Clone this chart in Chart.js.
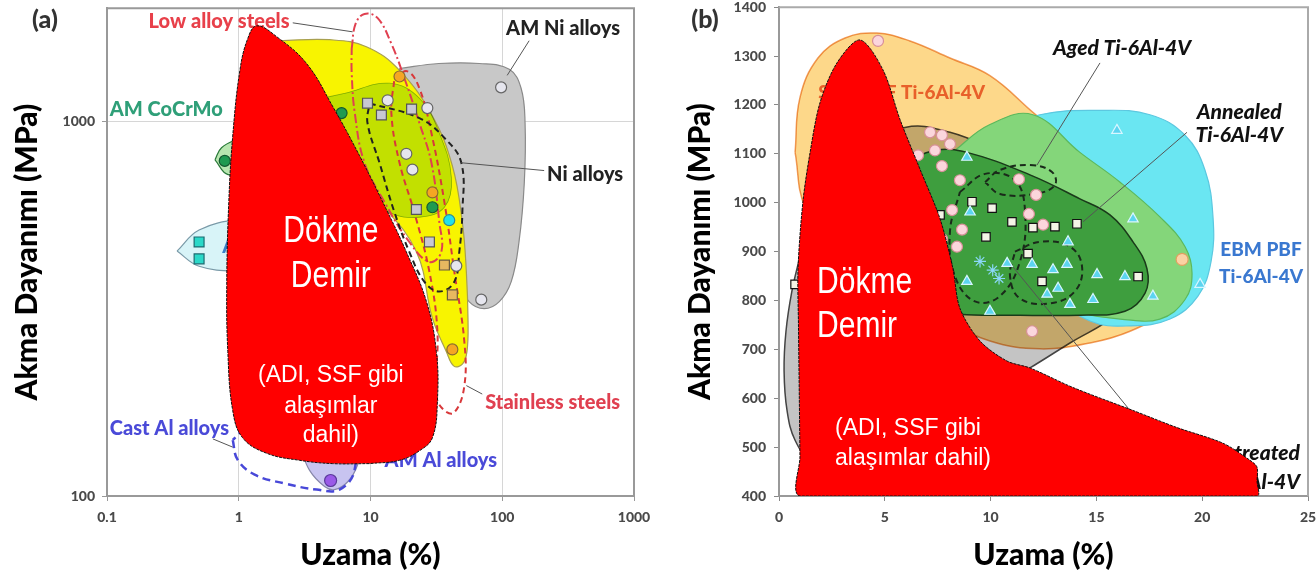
<!DOCTYPE html>
<html>
<head>
<meta charset="utf-8">
<script src="https://cdn.jsdelivr.net/npm/chart.js@4.4.1/dist/chart.umd.min.js"></script>
<style>
  html, body { margin: 0; padding: 0; background: #fff; }
  #wrap { position: relative; width: 1316px; height: 577px; overflow: hidden; }
  .panel { position: absolute; top: 0; height: 577px; }
  #pa { left: 0; width: 660px; }
  #pb { left: 660px; width: 656px; }
</style>
</head>
<body>
<div id="wrap">
  <div class="panel" id="pa"><canvas id="chartA"></canvas></div>
  <div class="panel" id="pb"><canvas id="chartB"></canvas></div>
</div>
<script>
// ---------- panel (a): elongation vs yield strength, log-log ----------
const ticksXA = [0.1, 1, 10, 100, 1000];
const ticksYA = [100, 1000];

// region outlines [elongation %, yield MPa]
const castIronA = [[9.83,122],[5.15,122],[2.9,124.5],[1.63,130],[1.07,143],[0.9,169],[0.826,243],[0.811,366],[0.84,607],[0.9,912],[1.02,1365],[1.17,1659],[1.37,1795],[1.94,1679],[3.27,1424],[5.15,1096],[8.26,808],[13.2,581],[18.7,448],[26.6,330],[31.6,243],[32.2,179],[29.5,143],[23.5,132],[16.6,124.5]];
const amNiA = [[16.6,1381],[33,1424],[67,1424],[113,1374],[139,1223],[149,988],[147,685],[134,476],[117,373],[95,330],[73,316],[56,330],[47,373],[40,506],[33,685],[23.5,929],[18,1116]];
const amSteelA = [[2.05,1638],[4.9,1648],[9.3,1579],[16.6,1365],[29.5,1031],[41.8,760],[49.8,537],[53.4,396],[55,292],[54,243],[50,225],[43,222],[37.6,243],[29.5,298],[22.3,448],[11.7,607],[4.9,823],[2.05,1116],[1.44,1424]];
const overlapA = [[2.9,1116],[6.35,1186],[13.9,1262],[23.5,1151],[33.3,929],[41.1,707],[36.4,589],[23.5,554],[13.9,571],[6.93,685],[4.11,823],[2.9,958]];
const coCrMoA = [[0.66,788],[0.74,849],[1.02,902],[2.05,1018],[4.9,1116],[6.9,1102],[6.7,970],[2.9,875],[1.21,752],[0.83,720]];
const amTiA = [[0.34,450],[0.5,512],[1,545],[2,535],[3,500],[3.2,440],[2,405],[1,398],[0.5,410]];
const amAlA = [[2.9,136],[3.45,117],[4.48,106],[5.33,104],[6.69,109],[7.97,121],[8.55,141],[5.82,159],[3.45,159]];
const lowAlloyA = [[7.2,1561],[7.7,1816],[9.0,1931],[11.3,1884],[14.4,1608],[18.1,1300],[23.5,988],[29,774],[33.3,537],[34.5,448],[28,421],[19.7,476],[12.8,607],[9.0,774],[7.6,1050],[7.2,1340]];
const stainlessA = [[15.2,1300],[19.1,1357],[23.5,1223],[29,929],[36.4,607],[43.3,396],[51.5,259],[51.5,196],[43.3,167],[36.4,169],[31.6,185],[32.2,275],[28,396],[21.5,571],[16.6,774],[14.4,1050]];
const niA = [[9.83,1116],[23.5,1018],[36.4,902],[48.9,774],[49.8,571],[47.2,448],[43.3,373],[33.3,351],[25.6,373],[19.7,448],[15.2,571],[11.7,774],[9.49,988]];
const castAlA = [[0.9,141],[0.98,125],[1.32,114],[2.23,108],[3.9,104],[5.82,104],[7.56,117],[6.93,141],[2.9,159],[1.21,154]];

// measured points
const graySqA = [[9.49,1116],[12.1,1038],[20.5,1076],[22.3,581],[28,476]];
const tanSqA = [[36.4,413],[41.8,344]];
const whiteDotA = [[13.5,1136],[27,1083],[18.7,818],[20.8,742],[44.8,411],[98,1230],[69.3,334]];
const orangeDotA = [[16.6,1315],[29.5,645],[41.8,246]];
const greenDotA = [[6.03,1050],[0.783,783],[29.5,589]];
const cyanDotA = [[39.6,544]];
const cyanSqA = [[0.5,476],[0.5,429]];
const purpleDotA = [[4.98,110]];

// leader lines
const leadLowA = [[2.57,1828],[7.31,1730]];
const leadAmNiA = [[160,1638],[109,1324]];
const leadNiA = [[208,738],[48.9,774]];
const leadStainA = [[70.5,187],[53.4,197]];
const leadCastAlA = [[0.636,142],[0.9,135]];

// ---------- panel (b): Ti-6Al-4V, linear ----------
const ticksXB = [0, 5, 10, 15, 20, 25];
const ticksYB = [400, 500, 600, 700, 800, 900, 1000, 1100, 1200, 1300, 1400];

const castIronB = [[12,400],[1.0,400],[0.99,480],[0.96,600],[0.92,750],[0.9,865],[1.13,1002],[1.47,1103],[1.94,1205],[2.74,1286],[3.83,1333],[4.91,1272],[5.72,1170],[6.66,1069],[7.61,967],[8.22,865],[8.55,784],[9.5,717],[10.78,676],[11.86,662],[13.89,622],[16.73,575],[18.81,540],[20.98,508],[22.26,473],[22.59,459],[22.59,430],[22.59,400]];
const heatB = [[0.99,890],[0.61,819],[0.33,737],[0.24,656],[0.38,575],[0.76,514],[1.47,477],[3.36,463],[5.72,493],[8.08,554],[10.44,626],[11.86,662],[13.75,713],[15.97,772],[17.2,839],[17.53,900],[16.59,971],[14.22,1032],[10.44,1103],[8.08,1144],[5.95,1154],[3.83,1103],[1.94,1002]];
const slmB = [[0.76,1103],[0.99,1215],[1.84,1296],[3.12,1337],[4.63,1347],[6.19,1331],[8.08,1296],[9.97,1260],[12.0,1185],[14.22,1103],[16.12,1032],[17.77,961],[18.86,890],[19.05,829],[18.24,778],[16.59,737],[14.7,713],[12.33,701],[9.97,717],[8.08,758],[6.19,819],[4.3,876],[2.41,937],[1.23,991]];
const ebmB = [[10.44,1144],[12.33,1180],[15.17,1189],[17.53,1180],[19.19,1138],[20.13,1067],[20.51,971],[20.42,880],[19.8,809],[18.48,762],[16.59,748],[14.7,758],[12.81,819],[10.92,941],[9.97,1063]];
const wideGreenB = [[7.14,1063],[8.32,1107],[9.97,1160],[12.0,1180],[14.22,1103],[16.12,1042],[18.0,971],[19.19,910],[19.52,855],[19.19,802],[18.0,762],[16.12,762],[14.22,774],[12.33,798],[10.44,829],[8.55,890],[7.37,971]];
const annealedB = [[5.95,1083],[7.37,1107],[8.88,1103],[11.86,1057],[14.22,1008],[15.64,975],[16.73,920],[17.39,865],[17.3,815],[16.35,778],[14.22,770],[11.39,770],[8.55,772],[6.66,788],[5.95,839],[5.72,941]];
const agedB = [[9.74,1042],[10.44,1067],[11.86,1077],[12.9,1063],[13.04,1036],[12.1,1018],[10.44,1018]];
const loop1B = [[8.55,1022],[9.74,1059],[11.15,1046],[11.63,981],[11.39,880],[10.44,809],[9.26,798],[8.32,849],[8.08,941]];
const loop2B = [[11.15,900],[12.33,920],[13.75,910],[14.32,870],[13.99,819],[12.81,794],[11.39,804],[10.92,849]];

const pinkDotB = [[4.68,1331],[7.14,1144],[7.7,1138],[8.08,1120],[7.37,1107],[6.57,1097],[7.7,1075],[8.55,1046],[8.18,985],[8.65,945],[8.41,910],[7.7,926],[11.34,1048],[12.15,1016],[11.81,977],[12.48,955],[11.96,737]];
const peachDotB = [[19.05,884]];
const squareB = [[7.14,987],[7.61,975],[9.12,1002],[10.07,989],[11.01,961],[9.78,930],[12.0,949],[13.04,951],[14.08,957],[11.77,896],[12.43,839],[16.97,849],[0.76,833]];
const triB = [[8.88,1093],[9.03,981],[10.78,876],[8.88,839],[9.97,778],[11.96,874],[12.95,863],[13.61,874],[12.67,813],[13.19,825],[13.75,792],[15.03,853],[14.84,802],[13.66,920],[15.97,1148],[16.73,967],[16.35,849],[17.67,809],[19.9,833]];
const starB = [[9.5,880],[10.1,862],[10.4,845]];

const leadAgedB = [[15.17,1286],[12.19,1077]];
const leadAnnealedB = [[19.28,1144],[14.37,961]];
const leadHeatB = [[10.92,876],[16.59,575]];

// ---------- helpers ----------
const pts = a => a.map(([x, y]) => ({ x, y }));
const closed = a => pts(a.concat([a[0]]));

function area(data, bg, line, order, more) {
  return Object.assign({ data: closed(data), fill: 'shape', backgroundColor: bg, borderColor: line,
    borderWidth: 1.2, tension: 0.4, pointRadius: 0, order: order }, more || {});
}
function ring(data, color, dash, order, width) {
  return { data: closed(data), fill: false, borderColor: color, borderWidth: width || 2,
    borderDash: dash, tension: 0.4, pointRadius: 0, order: order };
}
function lead(data, order) {
  return { data: pts(data), fill: false, borderColor: '#555', borderWidth: 1, tension: 0, pointRadius: 0, order: order };
}
function marks(data, style, bg, line, r, order) {
  return { data: pts(data), showLine: false, pointStyle: style, pointRadius: r,
    pointBackgroundColor: bg, pointBorderColor: line, pointBorderWidth: 1.2, order: order };
}

// text annotations, blend modes and frame
function decor(under, over, letter, frameColor) {
  const put = (chart, list) => {
    const { ctx, scales } = chart;
    ctx.save();
    ctx.textBaseline = 'middle';
    list.forEach(n => {
      ctx.font = n.font;
      ctx.fillStyle = n.color;
      ctx.textAlign = n.align || 'left';
      const px = scales.x.getPixelForValue(n.x), py = scales.y.getPixelForValue(n.y);
      if (n.fit) ctx.fillText(n.text, px, py, n.fit); else ctx.fillText(n.text, px, py);
    });
    ctx.restore();
  };
  const blendFor = (chart, meta) => {
    chart.ctx.globalCompositeOperation = (meta && chart.data.datasets[meta.index].blend) || 'source-over';
  };
  return {
    id: 'decor',
    beforeDatasetsDraw(chart) {
      const a = chart.chartArea, ctx = chart.ctx;
      ctx.save();
      ctx.strokeStyle = frameColor;
      ctx.lineWidth = 2;
      ctx.beginPath();
      ctx.moveTo(a.left, a.top); ctx.lineTo(a.right, a.top); ctx.lineTo(a.right, a.bottom);
      ctx.stroke();
      ctx.restore();
      const metas = chart.getSortedVisibleDatasetMetas();
      blendFor(chart, metas[metas.length - 1]);
    },
    afterDatasetDraw(chart, args) {
      const metas = chart.getSortedVisibleDatasetMetas();
      const next = metas[metas.indexOf(args.meta) - 1];
      blendFor(chart, next);
      if (next && chart.data.datasets[next.index].cast) {
        const mode = chart.ctx.globalCompositeOperation;
        chart.ctx.globalCompositeOperation = 'source-over';
        put(chart, under);
        chart.ctx.globalCompositeOperation = mode;
      }
    },
    afterDatasetsDraw(chart) {
      chart.ctx.globalCompositeOperation = 'source-over';
      put(chart, over);
      const ctx = chart.ctx;
      ctx.save();
      ctx.font = '900 25px Lato';
      ctx.fillStyle = '#333';
      ctx.textAlign = 'center';
      ctx.textBaseline = 'middle';
      ctx.fillText(letter, 45, 20);
      ctx.restore();
    }
  };
}

const lab = '900 20px Lato';
const labIt = 'italic 900 21px Lato';
const bigW = '36px "Liberation Sans"';
const smallW = '23px "Liberation Sans"';
const tickFont = { family: 'Lato', size: 14, weight: '900' };
const titleFont = { family: 'Lato', size: 30, weight: '900' };
const plain = v => String(v);

function fixTicks(list) {
  return s => { s.ticks = list.map(v => ({ value: v })); };
}
function fitY(w) { return s => { s.width = w; s.paddingTop = 0; s.paddingBottom = 0; }; }
function fitX(h) { return s => { s.height = h; s.paddingLeft = 0; s.paddingRight = 0; }; }

// ---------- chart (a) ----------
const notesUnderA = [
  { text: 'Low alloy steels', x: 2.43, y: 1840, color: '#e8404a', font: lab, align: 'right' },
  { text: 'AM Ni alloys', x: 107, y: 1762, color: '#222', font: lab },
  { text: 'AM CoCrMo', x: 0.105, y: 1076, color: '#2f9f78', font: lab },
  { text: 'Ni alloys', x: 219, y: 720, color: '#222', font: lab },
  { text: 'Stainless steels', x: 74.3, y: 177, color: '#e04050', font: lab },
  { text: 'Cast Al alloys', x: 0.105, y: 151, color: '#4a4ad8', font: lab },
  { text: 'AM Al alloys', x: 12.8, y: 124.5, color: '#4a4ad8', font: lab },
  { text: 'AM Ti alloys', x: 0.75, y: 464, color: '#3a7fc8', font: lab }
];
const notesOverA = [
  { text: 'Dökme', x: 5.0, y: 505, color: '#fff', font: bigW, align: 'center', fit: 95 },
  { text: 'Demir', x: 5.0, y: 384, color: '#fff', font: bigW, align: 'center', fit: 80 },
  { text: '(ADI, SSF gibi', x: 5.0, y: 209, color: '#fff', font: smallW, align: 'center', fit: 152 },
  { text: 'alaşımlar', x: 5.0, y: 173, color: '#fff', font: smallW, align: 'center', fit: 107 },
  { text: 'dahil)', x: 5.0, y: 145, color: '#fff', font: smallW, align: 'center', fit: 66 }
];

new Chart(document.getElementById('chartA'), {
  type: 'line',
  data: {
    datasets: [
      area(castIronA, '#ff0000', '#111', 0, { cast: true, borderWidth: 1, borderDash: [3, 1] }),
      marks(graySqA, 'rect', '#c8c8d2', '#555', 7, 2),
      marks(tanSqA, 'rect', '#e8b860', '#6a5a40', 7, 2),
      marks(whiteDotA, 'circle', '#e6e6ee', '#666', 5.5, 2),
      marks(orangeDotA, 'circle', '#f5a623', '#8a6a30', 5.5, 2),
      marks(greenDotA, 'circle', '#1f9a50', '#145a30', 5.5, 2),
      marks(cyanDotA, 'circle', '#22e0ea', '#2a8a9a', 5.5, 2),
      marks(cyanSqA, 'rect', '#2ad8c8', '#1a6a70', 7, 2),
      marks(purpleDotA, 'circle', '#9a5ae8', '#5a3a9a', 6, 2),
      lead(leadLowA, 3), lead(leadAmNiA, 3), lead(leadNiA, 3), lead(leadStainA, 3), lead(leadCastAlA, 3),
      ring(niA, '#222', [6, 4], 4),
      ring(stainlessA, '#d8383a', [6, 4], 5),
      ring(lowAlloyA, '#e04050', [9, 3, 2, 3], 6),
      ring(castAlA, '#4848d8', [8, 5], 6, 2.5),
      area(overlapA, '#c8eba0', '#9ac070', 7, { blend: 'multiply', borderWidth: 0.8 }),
      area(amSteelA, '#f8f400', '#a8a050', 8),
      area(coCrMoA, '#b8e6b0', '#2a7a3a', 9),
      area(amAlA, '#c8c4f0', '#8888aa', 9),
      area(amTiA, '#d8f4f8', '#7a9aa8', 10),
      area(amNiA, '#c8c8c8', '#8a8a8a', 11)
    ]
  },
  options: {
    responsive: true, maintainAspectRatio: false, animation: false, events: [],
    layout: { padding: { left: 0, right: 26, top: 4, bottom: 0 } },
    plugins: { legend: { display: false }, tooltip: { enabled: false } },
    scales: {
      x: {
        type: 'logarithmic', min: 0.1, max: 1000,
        afterBuildTicks: fixTicks(ticksXA), afterFit: fitX(81),
        ticks: { autoSkip: false, maxRotation: 0, padding: 8, color: '#4a4a4a', font: tickFont, callback: plain },
        grid: { color: '#d6d6d6', tickColor: '#999', tickLength: 5 },
        border: { color: '#999', width: 2 },
        title: { display: true, text: 'Uzama (%)', color: '#000', font: titleFont, padding: { top: 0, bottom: 4 } }
      },
      y: {
        type: 'logarithmic', min: 100, max: 2000,
        afterBuildTicks: fixTicks(ticksYA), afterFit: fitY(107),
        ticks: { autoSkip: false, padding: 7, color: '#4a4a4a', font: tickFont, callback: plain },
        grid: { color: '#d6d6d6', tickColor: '#999', tickLength: 5 },
        border: { color: '#999', width: 2 },
        title: { display: true, text: 'Akma Dayanımı (MPa)', color: '#000', font: titleFont, padding: { top: 9, bottom: 0 } }
      }
    }
  },
  plugins: [decor(notesUnderA, notesOverA, '(a)', '#999')]
});

// ---------- chart (b) ----------
const notesUnderB = [
  { text: 'SLM PBF Ti-6Al-4V', x: 9.74, y: 1225, color: '#e8602a', font: '900 19px Lato', align: 'right' },
  { text: 'Aged Ti-6Al-4V', x: 16.21, y: 1317, color: '#111', font: labIt, align: 'center' },
  { text: 'Annealed', x: 21.75, y: 1185, color: '#111', font: labIt, align: 'center' },
  { text: 'Ti-6Al-4V', x: 21.75, y: 1138, color: '#111', font: labIt, align: 'center' },
  { text: 'EBM PBF', x: 22.78, y: 904, color: '#3a78d0', font: '900 19px Lato', align: 'center' },
  { text: 'Ti-6Al-4V', x: 22.78, y: 849, color: '#3a78d0', font: '900 19px Lato', align: 'center' },
  { text: 'Heat treated', x: 24.62, y: 487, color: '#111', font: labIt, align: 'right' },
  { text: 'Ti-6Al-4V', x: 24.62, y: 428, color: '#111', font: labIt, align: 'right' }
];
const notesOverB = [
  { text: 'Dökme', x: 1.8, y: 835, color: '#fff', font: bigW, fit: 95 },
  { text: 'Demir', x: 1.8, y: 745, color: '#fff', font: bigW, fit: 80 },
  { text: '(ADI, SSF gibi', x: 2.65, y: 538, color: '#fff', font: smallW, fit: 152 },
  { text: 'alaşımlar dahil)', x: 2.65, y: 477, color: '#fff', font: smallW, fit: 177 }
];

new Chart(document.getElementById('chartB'), {
  type: 'line',
  data: {
    datasets: [
      area(castIronB, '#ff0000', '#111', 0, { cast: true, borderWidth: 1, borderDash: [3, 1], tension: 0.3 }),
      marks(triB, 'triangle', '#5cd4f0', '#d8f6ff', 6, 2),
      marks(starB, 'star', '#8ad8f8', '#8ad8f8', 6, 2),
      marks(squareB, 'rect', '#f4f4e6', '#111', 6, 3),
      marks(pinkDotB, 'circle', '#fbd6dc', '#d89098', 5.5, 4),
      marks(peachDotB, 'circle', '#fbd2a4', '#e0a060', 6, 4),
      lead(leadAgedB, 5), lead(leadAnnealedB, 5), lead(leadHeatB, 5),
      ring(agedB, '#1a2a1a', [6, 4], 6),
      ring(loop1B, '#1a2a1a', [6, 4], 6),
      ring(loop2B, '#1a2a1a', [6, 4], 6),
      area(annealedB, '#3e9e3e', '#1a3a1a', 7, { borderWidth: 1.5 }),
      area(wideGreenB, '#84d67a', '#5cb85c', 8),
      area(ebmB, '#6ae6f2', '#5cc8e0', 9),
      area(slmB, '#fdd88a', '#f0a060', 10, { blend: 'multiply', borderWidth: 1.5 }),
      area(heatB, '#c4c4c4', '#444', 11, { borderWidth: 1.5 })
    ]
  },
  options: {
    responsive: true, maintainAspectRatio: false, animation: false, events: [],
    layout: { padding: { left: 0, right: 8, top: 4, bottom: 0 } },
    plugins: { legend: { display: false }, tooltip: { enabled: false } },
    scales: {
      x: {
        type: 'linear', min: 0, max: 25,
        afterBuildTicks: fixTicks(ticksXB), afterFit: fitX(81),
        ticks: { autoSkip: false, maxRotation: 0, padding: 8, color: '#4a4a4a', font: tickFont, callback: plain },
        grid: { drawOnChartArea: false, color: '#888', tickLength: 5 },
        border: { color: '#999', width: 2 },
        title: { display: true, text: 'Uzama (%)', color: '#000', font: titleFont, padding: { top: 0, bottom: 4 } }
      },
      y: {
        type: 'linear', min: 400, max: 1400,
        afterBuildTicks: fixTicks(ticksYB), afterFit: fitY(119),
        ticks: { autoSkip: false, padding: 8, color: '#4a4a4a', font: tickFont, callback: plain },
        grid: { drawOnChartArea: false, color: '#888', tickLength: 5 },
        border: { color: '#999', width: 2 },
        title: { display: true, text: 'Akma Dayanımı (MPa)', color: '#000', font: titleFont, padding: { top: 22, bottom: 0 } }
      }
    }
  },
  plugins: [decor(notesUnderB, notesOverB, '(b)', '#aaa')]
});
</script>
</body>
</html>
